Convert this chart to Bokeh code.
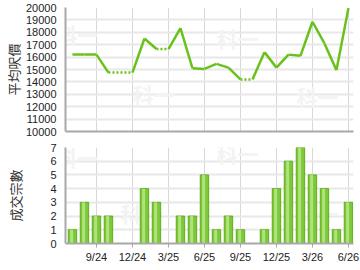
from bokeh.plotting import figure
from bokeh.layouts import column
from bokeh.models import FixedTicker, Range1d, Label, ColumnDataSource
from bokeh.embed import file_html
from bokeh.resources import INLINE

months = ["7/24", "8/24", "9/24", "10/24", "11/24", "12/24",
          "1/25", "2/25", "3/25", "4/25", "5/25", "6/25",
          "7/25", "8/25", "9/25", "10/25", "11/25", "12/25",
          "1/26", "2/26", "3/26", "4/26", "5/26", "6/26"]
avg_price = [16200, 16200, 16200, 14750, 14750, 14750,
             17500, 16650, 16650, 18330, 15100, 15050,
             15450, 15150, 14200, 14200, 16400, 15150,
             16200, 16100, 18850, 17100, 14950, 19950]
deals = [1, 3, 2, 2, 0, 0,
         4, 3, 0, 2, 2, 5,
         1, 2, 1, 0, 1, 4,
         6, 7, 5, 4, 1, 3]
tick_labels = ["9/24", "12/24", "3/25", "6/25", "9/25", "12/25", "3/26", "6/26"]
price_ticks = list(range(10000, 20001, 1000))
deal_ticks = list(range(0, 8))

idx = list(range(len(months)))
tick_pos = [months.index(t) for t in tick_labels]

solid = dict(x0=[], y0=[], x1=[], y1=[])
dotted = dict(x0=[], y0=[], x1=[], y1=[])
for i in range(len(months) - 1):
    d = dotted if deals[i + 1] == 0 else solid
    d["x0"].append(i); d["x1"].append(i + 1)
    d["y0"].append(avg_price[i]); d["y1"].append(avg_price[i + 1])

bar_src = ColumnDataSource(dict(
    x=[i for i in idx if deals[i] > 0],
    hx=[i - 0.07 for i in idx if deals[i] > 0],
    top=[deals[i] for i in idx if deals[i] > 0]))

LINE_GREEN = "#6ac11c"
AXIS_COLOR = "#a8a8a8"
TICK_FONT = "Liberation Sans"
CJK_FONT = "Noto Sans CJK TC"

xr = Range1d(-0.58, 23.42)


def style(p, yticks, label, standoff):
    p.outline_line_color = None
    p.background_fill_color = "white"
    p.border_fill_color = "white"
    p.yaxis.ticker = FixedTicker(ticks=yticks)
    p.xgrid.ticker = FixedTicker(ticks=tick_pos)
    p.ygrid.ticker = FixedTicker(ticks=yticks)
    for ax in (p.xaxis, p.yaxis):
        ax.axis_line_color = AXIS_COLOR
        ax.axis_line_width = 2
        ax.major_tick_line_color = AXIS_COLOR
        ax.minor_tick_line_color = None
        ax.major_label_text_font = TICK_FONT
        ax.major_label_text_font_size = "11px"
        ax.major_label_text_color = "#222222"
    p.yaxis.major_tick_out = 0
    p.yaxis.major_tick_in = 0
    p.yaxis.major_label_standoff = 9
    p.yaxis.axis_label = label
    p.yaxis.axis_label_text_font = CJK_FONT
    p.yaxis.axis_label_text_font_size = "13px"
    p.yaxis.axis_label_text_font_style = "normal"
    p.yaxis.axis_label_text_color = "#333333"
    p.yaxis.axis_label_standoff = standoff
    p.ygrid.grid_line_color = "#e8e8e8"
    p.ygrid.grid_line_width = 2
    p.xgrid.grid_line_color = "#d8d8d8"
    p.xgrid.grid_line_width = 1


def watermark(p, pts):
    for (x, y) in pts:
        p.add_layout(Label(x=x, y=y, text="科一", text_font=CJK_FONT,
                           text_font_size="21px", text_font_style="bold",
                           text_color="#f3f3f3", text_align="center",
                           text_baseline="middle", level="underlay"))


p1 = figure(width=360, height=137, x_range=xr, y_range=Range1d(10000, 20000),
            output_backend="svg", toolbar_location=None,
            min_border_left=65, min_border_right=7, min_border_top=7,
            min_border_bottom=6)
style(p1, price_ticks, "平均呎價", 0)
p1.xaxis.ticker = FixedTicker(ticks=[])
p1.xaxis.major_tick_out = 0
p1.xaxis.major_tick_in = 0
p1.xaxis.major_label_standoff = 0
watermark(p1, [(0.4, 17900), (6.75, 13000), (13.75, 17550), (20.4, 12850)])
p1.segment(x0="x0", y0="y0", x1="x1", y1="y1", source=ColumnDataSource(solid),
           line_color=LINE_GREEN, line_width=2.5)
p1.segment(x0="x0", y0="y0", x1="x1", y1="y1", source=ColumnDataSource(dotted),
           line_color=LINE_GREEN, line_width=2.5, line_dash="2 2")

p2 = figure(width=360, height=133, x_range=xr, y_range=Range1d(0, 7),
            output_backend="svg", toolbar_location=None,
            min_border_left=65, min_border_right=7, min_border_top=10,
            min_border_bottom=27)
style(p2, deal_ticks, "成交宗數", 22)
p2.xaxis.ticker = FixedTicker(ticks=tick_pos)
p2.xaxis.major_label_overrides = {pos: lab for pos, lab in zip(tick_pos, tick_labels)}
p2.xaxis.major_tick_out = 4
p2.xaxis.major_tick_in = 0
p2.xaxis.major_label_standoff = 3
watermark(p2, [(0.4, 6.3), (5.75, 2.2), (13.75, 6.6), (20.4, 2.2)])
p2.vbar(x="x", top="top", bottom=0, width=0.7, source=bar_src,
        fill_color="#7cc93a", line_color="#62ad1e", line_width=1)
p2.vbar(x="hx", top="top", bottom=0, width=0.24, source=bar_src,
        fill_color="#b2e27e", line_color=None)

layout = column(p1, p2, spacing=0)
open("out.html", "w").write(file_html(layout, INLINE))
